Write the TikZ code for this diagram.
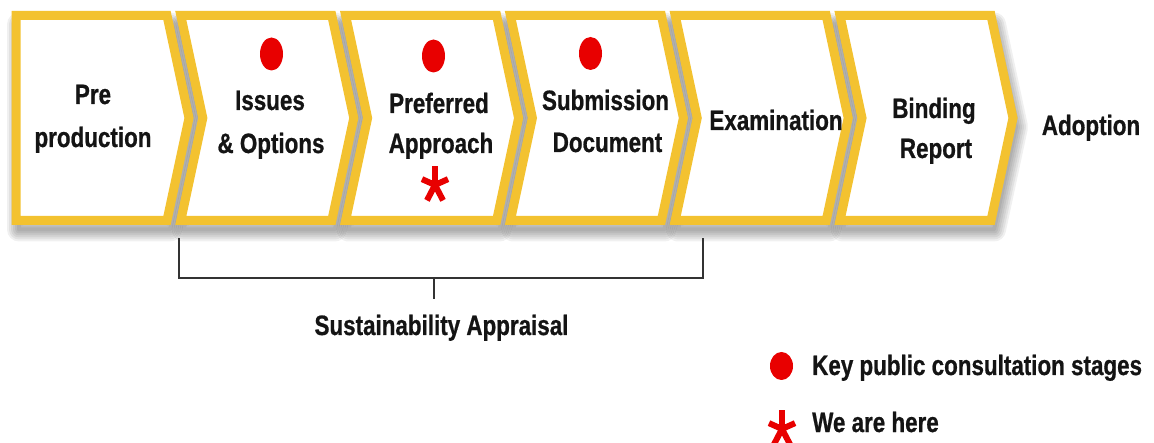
\documentclass[tikz,border=0pt]{standalone}
\usepackage{fontspec}
\setmainfont{Liberation Sans}[FakeStretch=0.8, BoldFeatures={FakeBold=0.7}]
\usetikzlibrary{shapes.geometric}
\definecolor{chevY}{RGB}{243,194,48}
\definecolor{dotR}{RGB}{232,0,0}
\definecolor{txt}{RGB}{20,20,20}
\tikzset{
  lbl/.style={font=\bfseries\fontsize{28}{34}\selectfont, text=txt, inner sep=0pt, anchor=base},
  chev/.style={draw=chevY, line width=9pt, fill=white, line join=miter, miter limit=10},
  shad/.style={draw=black, line join=round, opacity=0.06},
  kdot/.style={fill=dotR, draw=none, ellipse, minimum width=23pt, minimum height=33pt, inner sep=0pt},
  bracketline/.style={draw=black!80, line width=1.4pt},
  astr/.pic={\foreach \a in {90,18,162,234,306}
      \draw[dotR, line width=6pt] (0,0) -- ({0.72*19*cos(\a)},{19*sin(\a)});}
}
\begin{document}
\begin{tikzpicture}[x=1pt,y=1pt]
\useasboundingbox[fill=white] (0,0) rectangle (1154,-443);
\def\ytop{-15.5}\def\ybot{-220.5}\def\ymid{-118}
% shadows
\foreach \i in {0,...,5}{
  \pgfmathsetmacro\xa{16+164.8*\i}
  \pgfmathsetmacro\notch{ifthenelse(\i==0,0,22)}
  \foreach \k in {1,...,6}{
    \draw[shad, line width=\k*4pt, shift={(3,-9)}]
      (\xa,\ytop) -- (\xa+151,\ytop) -- (\xa+173,\ymid) -- (\xa+151,\ybot)
      -- (\xa,\ybot) -- (\xa+\notch,\ymid) -- cycle;
  }
}
% chevrons
\foreach \i in {0,...,5}{
  \pgfmathsetmacro\xa{16+164.8*\i}
  \pgfmathsetmacro\notch{ifthenelse(\i==0,0,22)}
  \draw[chev]
    (\xa,\ytop) -- (\xa+151,\ytop) -- (\xa+173,\ymid) -- (\xa+151,\ybot)
    -- (\xa,\ybot) -- (\xa+\notch,\ymid) -- cycle;
}
% labels
\node[lbl] (preA) at (93,-104) {Pre};
\node[lbl] (preB) at (93,-147) {production};
\node[lbl] (issA) at (270,-110) {Issues};
\node[lbl] (issB) at (271,-153) {\& Options};
\node[lbl] (prfA) at (439,-113) {Preferred};
\node[lbl] (prfB) at (441,-153) {Approach};
\node[lbl] (subA) at (605.5,-110) {Submission};
\node[lbl] (subB) at (607.5,-152) {Document};
\node[lbl] (exam) at (776,-130) {Examination};
\node[lbl] (binA) at (934,-118) {Binding};
\node[lbl] (binB) at (936,-158) {Report};
\node[lbl] (adop) at (1091,-135) {Adoption};
% consultation dots
\node[kdot] (dot1) at (271.5,-54) {};
\node[kdot] (dot2) at (433.5,-56) {};
\node[kdot] (dot3) at (590.5,-53.5) {};
\pic (here) at (435,-185) {astr};
% bracket
\coordinate (bl) at (179,-238);
\coordinate (blc) at (179,-278);
\coordinate (br) at (703,-238);
\coordinate (brc) at (703,-278);
\coordinate (tk) at (434,-278);
\coordinate (tkb) at (434,-299);
\draw[bracketline] (bl) -- (blc) -- (brc) -- (br);
\draw[bracketline] (tk) -- (tkb);
\node[lbl] (sust) at (441.5,-335) {Sustainability Appraisal};
% legend
\node[kdot, minimum height=28pt] (legdot) at (781.5,-366) {};
\node[lbl, anchor=base west] (keyT) at (812,-375) {Key public consultation stages};
\pic (legast) at (782,-429) {astr};
\node[lbl, anchor=base west] (hereT) at (812,-432) {We are here};
\end{tikzpicture}
\end{document}
